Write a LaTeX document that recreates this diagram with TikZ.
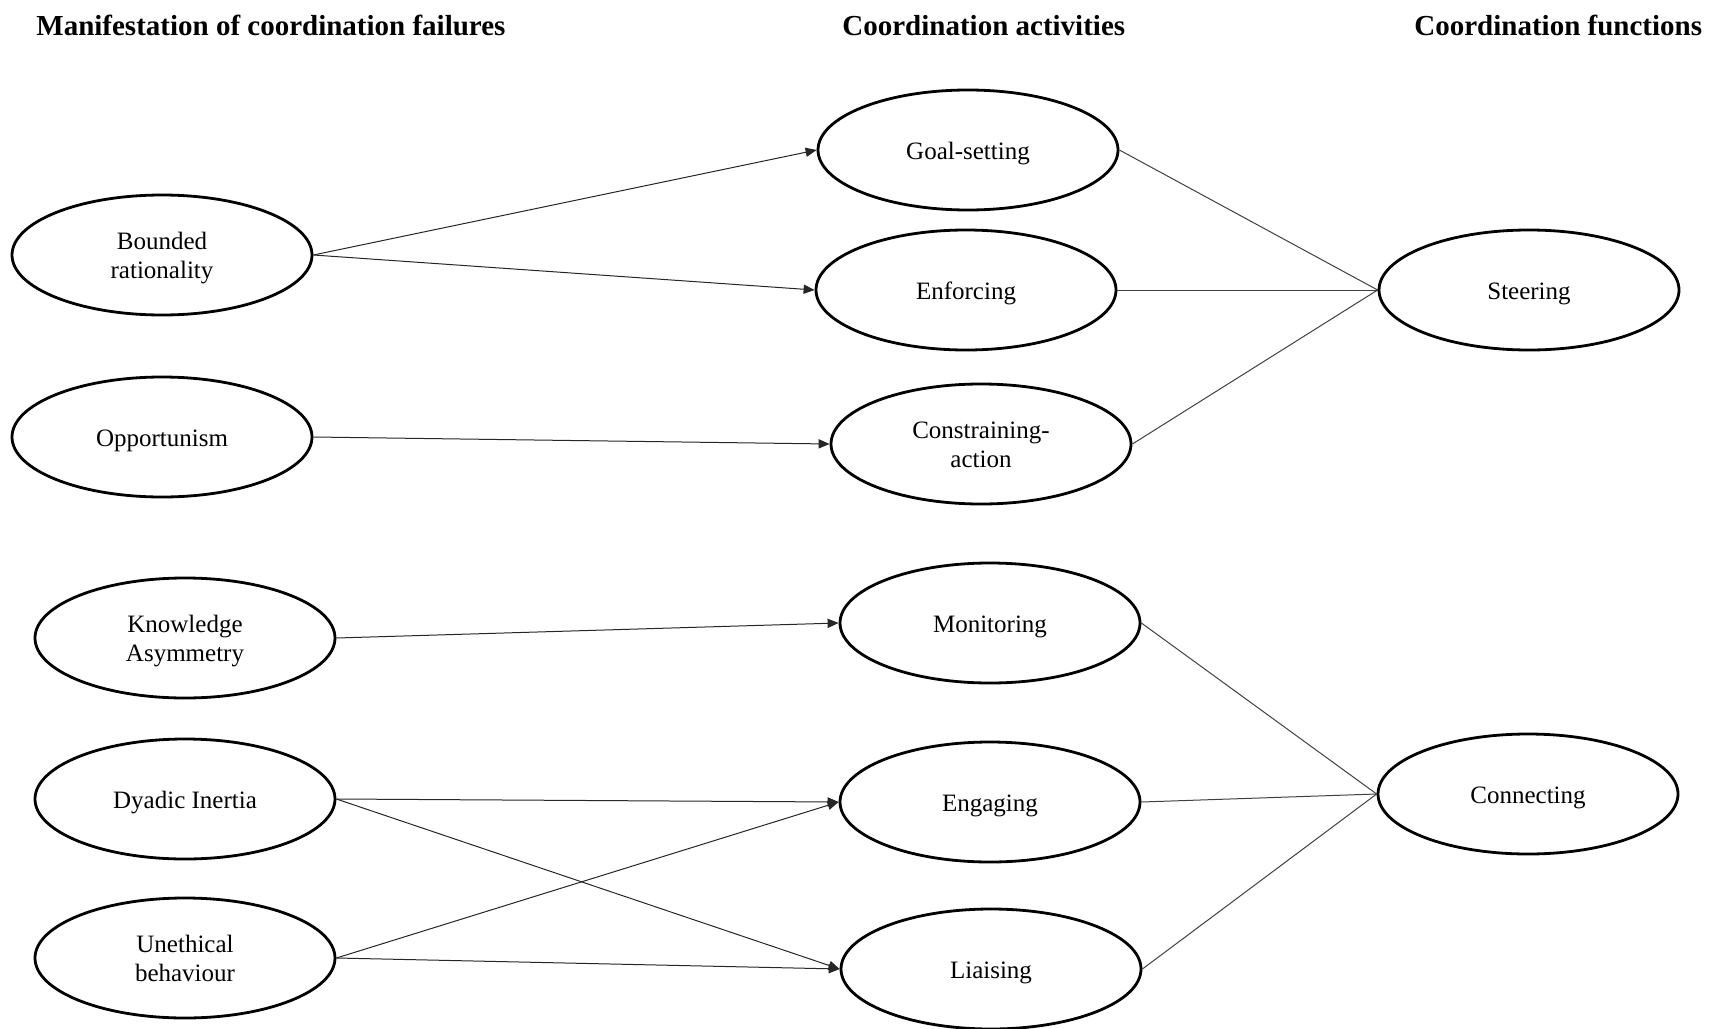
\documentclass[tikz,border=0pt]{standalone}
\usepackage{fontspec}
\setmainfont{Liberation Serif}
\usetikzlibrary{shapes.geometric,arrows.meta}
\newcommand{\myTopS}{\rule{0pt}{12pt}}
\newcommand{\myBotS}{\rule[-3pt]{0pt}{3pt}}
\begin{document}
\begin{tikzpicture}[x=0.5pt,y=-0.5pt,
  ov/.style={ellipse,draw,line width=1.4pt,minimum width=150pt,minimum height=60pt,inner sep=0pt,align=center,font=\fontsize{12.5}{14.8}\selectfont,
    execute at begin node={\myTopS},
    execute at end node={\myBotS}},
  hd/.style={font=\fontsize{14.5}{17}\selectfont\bfseries,inner sep=0pt,anchor=base west},
  arr/.style={-{Triangle[length=5.5pt,width=4.6pt]},line width=0.5pt,draw=black!85},
  ln/.style={line width=0.5pt,draw=black!75}]
\useasboundingbox (0,0) rectangle (1713,1028);
% headers
\node[hd] (h1) at (36,35) {Manifestation of coordination failures};
\node[hd] (h2) at (842,35) {Coordination activities};
\node[hd] (h3) at (1414,35) {Coordination functions};
% left column
\node[ov] (br) at (162,255) {\myTopS Bounded\\rationality\myBotS};
\node[ov] (op) at (162,437) {Opportunism};
\node[ov] (ka) at (185,638) {\myTopS Knowledge\\Asymmetry\myBotS};
\node[ov] (di) at (185,799) {Dyadic Inertia};
\node[ov] (ub) at (185,958) {\myTopS Unethical\\behaviour\myBotS};
% middle column
\node[ov] (gs) at (968,150) {Goal-setting};
\node[ov] (en) at (966,290) {Enforcing};
\node[ov] (ca) at (981,444) {\myTopS Constraining-\\action\myBotS};
\node[ov] (mo) at (990,623) {Monitoring};
\node[ov] (eg) at (990,802) {Engaging};
\node[ov] (li) at (991,969) {Liaising};
% right column
\node[ov] (st) at (1529,290) {Steering};
\node[ov] (co) at (1528,794) {Connecting};
% arrows
\draw[arr] (br.east) -- (gs.west);
\draw[arr] (br.east) -- (en.west);
\draw[arr] (op.east) -- (ca.west);
\draw[arr] (ka.east) -- (mo.west);
\draw[arr] (di.east) -- (eg.west);
\draw[arr] (di.east) -- (li.west);
\draw[arr] (ub.east) -- (eg.west);
\draw[arr] (ub.east) -- (li.west);
% lines
\draw[ln] (gs.east) -- (st.west);
\draw[ln] (en.east) -- (st.west);
\draw[ln] (ca.east) -- (st.west);
\draw[ln] (mo.east) -- (co.west);
\draw[ln] (eg.east) -- (co.west);
\draw[ln] (li.east) -- (co.west);
\end{tikzpicture}
\end{document}
